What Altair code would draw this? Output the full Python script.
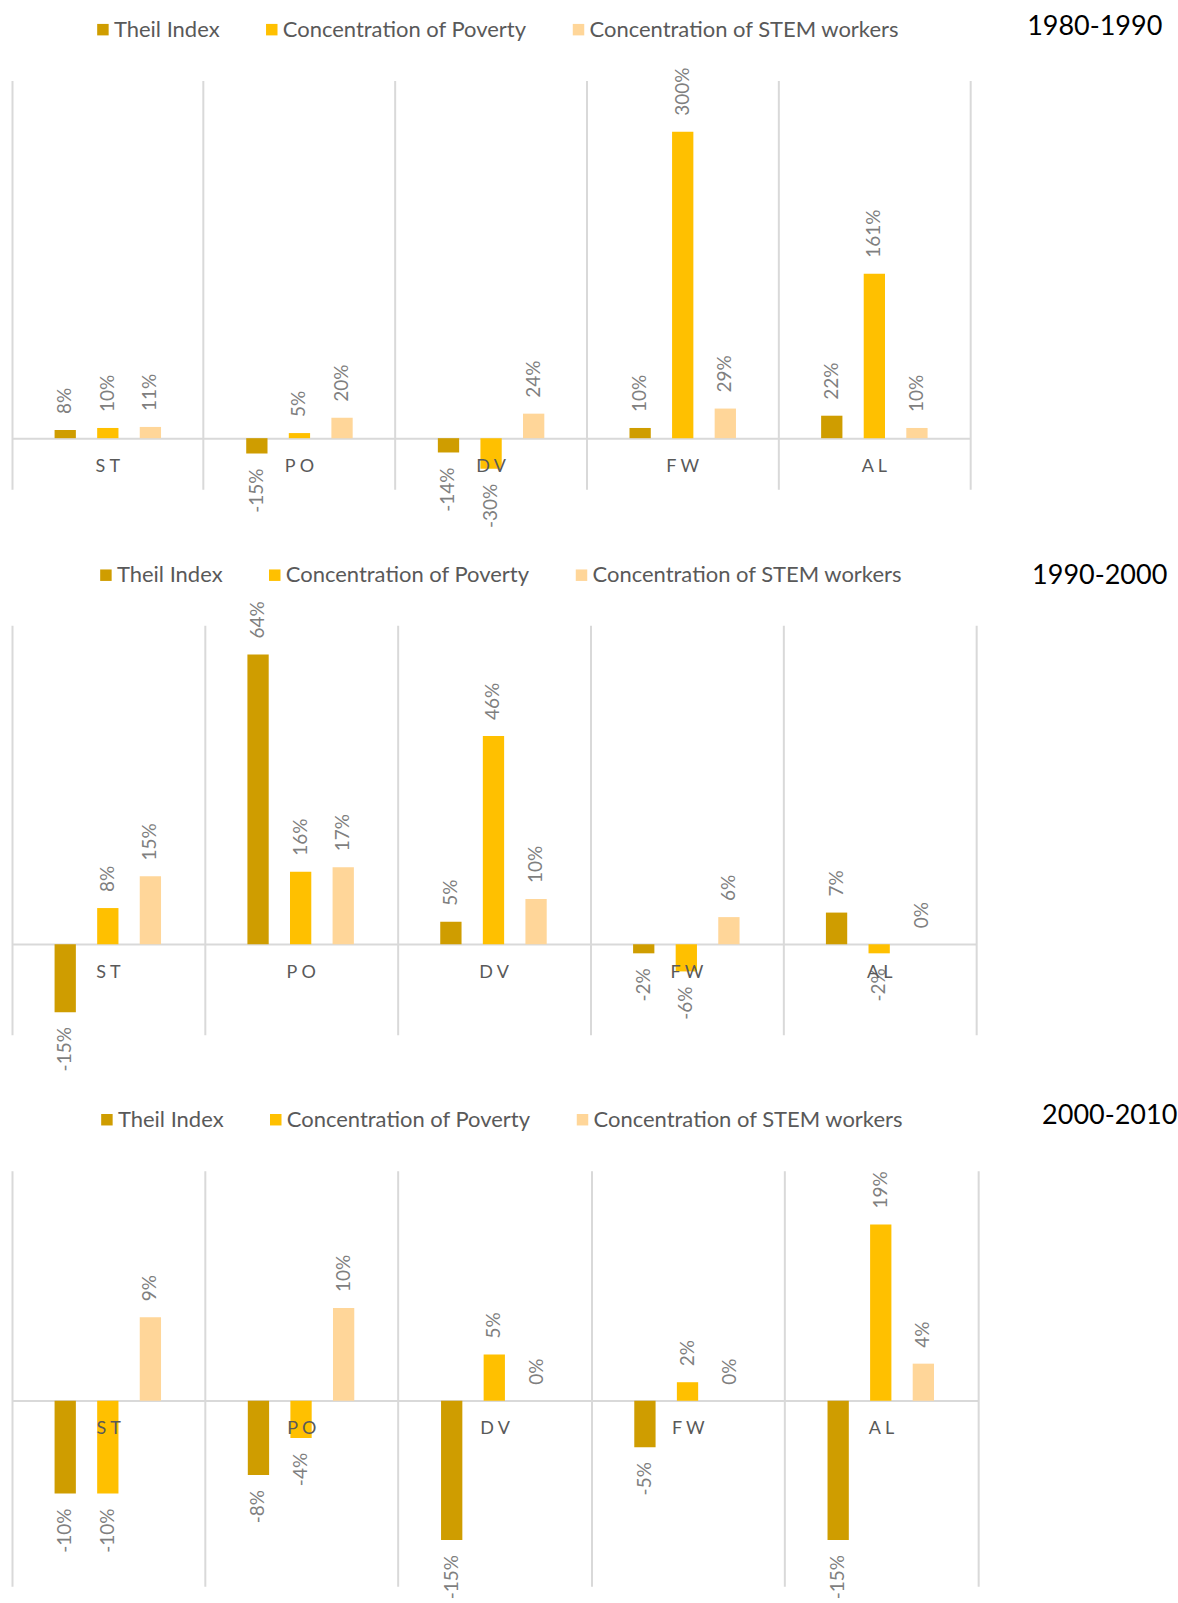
import altair as alt
import pandas as pd

# Neighbourhood groups and the three measured series
categories = ["ST", "PO", "DV", "FW", "AL"]
series = ["Theil Index", "Concentration of Poverty", "Concentration of STEM workers"]
series_colors = ["#CF9D00", "#FFC000", "#FFD699"]

# Percent change per decade
theil_1980 = [8, -15, -14, 10, 22]
poverty_1980 = [10, 5, -30, 300, 161]
stem_1980 = [11, 20, 24, 29, 10]

theil_1990 = [-15, 64, 5, -2, 7]
poverty_1990 = [8, 16, 46, -6, -2]
stem_1990 = [15, 17, 10, 6, 0]

theil_2000 = [-10, -8, -15, -5, -15]
poverty_2000 = [-10, -4, 5, 2, 19]
stem_2000 = [9, 10, 0, 0, 4]

GRID = "#D9D9D9"
FONT = "Lato"


def panel(decade, theil, poverty, stem, width, height, y_domain,
          legend_x, legend_y, title_dx, title_dy):
    rows = []
    for name, vals in zip(series, (theil, poverty, stem)):
        for cat, v in zip(categories, vals):
            rows.append({"cat": cat, "series": name, "v": v, "label": f"{v}%"})
    df = pd.DataFrame(rows)

    lo, hi = y_domain
    zero_from_bottom = height * (0 - lo) / (hi - lo)

    xscale = alt.Scale(domain=categories, paddingInner=0, paddingOuter=0)
    yscale = alt.Scale(domain=y_domain, nice=False, zero=False)

    # vertical separators between the groups
    grid_axis = alt.Axis(orient="top", grid=True, gridColor=GRID, gridWidth=2, bandPosition=0,
                         domain=False, ticks=False, labels=False, title=None)
    # group names sitting just under the zero line, drawn above the bars
    label_axis = alt.Axis(orient="bottom", grid=False, domain=False, ticks=False,
                          labels=True, labelAngle=0, zindex=1,
                          labelExpr="join(split(datum.label, ''), ' ')",
                          labelFont=FONT, labelFontSize=18, labelColor="#595959",
                          labelPadding=19, offset=-zero_from_bottom, title=None)
    # zero line plus the closing line on the right
    y_axis = alt.Axis(orient="right", domain=True, domainColor=GRID, domainWidth=2,
                      ticks=False, labels=False, grid=True, values=[0],
                      gridColor=GRID, gridWidth=2, title=None)

    y = alt.Y("v:Q", scale=yscale, axis=y_axis)
    xo = alt.XOffset("series:N", sort=series,
                     scale=alt.Scale(domain=series, paddingInner=0.5, paddingOuter=1))

    bars = alt.Chart(df).mark_bar().encode(
        x=alt.X("cat:N", sort=categories, scale=xscale, axis=grid_axis),
        xOffset=xo, y=y,
        color=alt.Color("series:N", sort=series,
                        scale=alt.Scale(domain=series, range=series_colors),
                        legend=alt.Legend(orient="none", legendX=legend_x, legendY=legend_y,
                                          direction="horizontal", title=None,
                                          symbolType="square", symbolSize=132,
                                          symbolStrokeWidth=0, labelLimit=0,
                                          labelFont=FONT, labelFontSize=22,
                                          labelColor="#595959", labelOffset=0,
                                          columnPadding=41, padding=0)),
    )

    text_style = dict(angle=270, baseline="middle", fontSize=19, font=FONT, color="#7F7F7F")
    pos = alt.Chart(df).transform_filter("datum.v >= 0").mark_text(
        align="left", dx=16, **text_style).encode(
        x=alt.X("cat:N", sort=categories, scale=xscale, axis=label_axis),
        xOffset=xo, y=y, text="label:N")
    neg = alt.Chart(df).transform_filter("datum.v < 0").mark_text(
        align="right", dx=-15, **text_style).encode(
        x=alt.X("cat:N", sort=categories, scale=xscale, axis=None),
        xOffset=xo, y=y, text="label:N")

    return alt.layer(bars, pos, neg).resolve_axis(x="independent").properties(
        width=width, height=height,
        title=alt.TitleParams(decade, anchor="start", dx=title_dx, dy=title_dy, fontSize=27,
                              font=FONT, fontWeight="normal", color="#000000"),
    )


p1 = panel("1980-1990", theil_1980, poverty_1980, stem_1980, 959, 409, [-50, 350],
           80, -62, 1016, 26)
p2 = panel("1990-2000", theil_1990, poverty_1990, stem_1990, 965, 410, [-20, 70.5],
           83, -61, 1021, 30)
p3 = panel("2000-2010", theil_2000, poverty_2000, stem_2000, 967, 416, [-20, 24.8],
           84, -62, 1031, 25)

chart = (
    alt.vconcat(p1, p2, p3, spacing=136, bounds="flush")
    .resolve_scale(x="independent", y="independent", color="independent")
    .resolve_legend(color="independent")
    .configure_view(stroke=None)
    .properties(padding={"left": 12, "top": 12, "right": 0, "bottom": 0})
)

chart.save("out.html", embed_options={"renderer": "svg", "actions": False})
